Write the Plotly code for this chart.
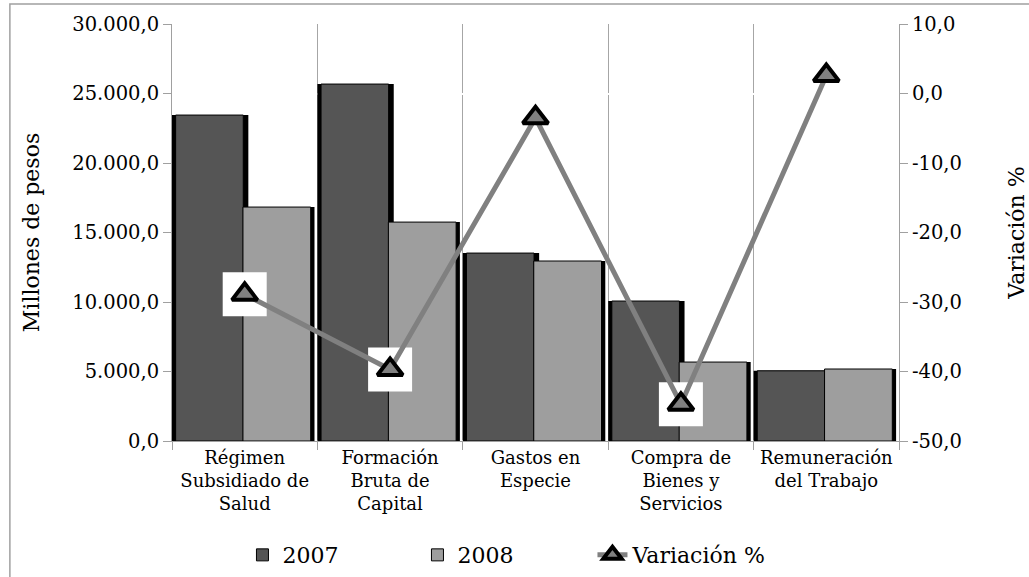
import plotly.graph_objects as go

categorias = ["Régimen<br>Subsidiado de<br>Salud", "Formación<br>Bruta de<br>Capital",
              "Gastos en<br>Especie", "Compra de<br>Bienes y<br>Servicios",
              "Remuneración<br>del Trabajo"]
valores_2007 = [23450, 25680, 13520, 10070, 5050]
valores_2008 = [16830, 15750, 12950, 5680, 5180]
variacion = [-28.9, -39.7, -3.5, -44.7, 2.6]
ticks_var = [-50, -40, -30, -20, -10, 0, 10]
ticks_var_txt = ["-50,0", "-40,0", "-30,0", "-20,0", "-10,0", "0,0", "10,0"]

FUENTE = "DejaVu Serif"
def f(size):
    return dict(family=FUENTE, size=size, color="black")

fig = go.Figure()

# sombra + relleno 2007
fig.add_trace(go.Bar(x=categorias, y=valores_2007, offset=-0.5, width=0.525,
                     marker=dict(color="black", line=dict(width=0)),
                     showlegend=False, hoverinfo="skip"))
fig.add_trace(go.Bar(x=categorias, y=valores_2007, offset=-0.475, width=0.465, name="2007",
                     marker=dict(color="#555555", line=dict(color="black", width=1))))
# sombra + relleno 2008
fig.add_trace(go.Bar(x=categorias, y=valores_2008, offset=-0.012, width=0.492,
                     marker=dict(color="black", line=dict(width=0)),
                     showlegend=False, hoverinfo="skip"))
fig.add_trace(go.Bar(x=categorias, y=valores_2008, offset=-0.012, width=0.466, name="2008",
                     marker=dict(color="#9e9e9e", line=dict(color="black", width=1))))

# fondo blanco de los marcadores
fig.add_trace(go.Scatter(x=categorias, y=variacion, yaxis="y2", mode="markers",
                         marker=dict(symbol="square", size=44, color="white"),
                         showlegend=False, hoverinfo="skip"))
fig.add_trace(go.Scatter(x=categorias, y=variacion, yaxis="y2", mode="lines+markers",
                         name="Variación %",
                         line=dict(color="#808080", width=5),
                         marker=dict(symbol="triangle-up", size=22, color="#808080",
                                     line=dict(color="black", width=4))))

fig.update_layout(
    width=1029, height=577,
    barmode="overlay",
    separators=",.",
    paper_bgcolor="white", plot_bgcolor="white",
    font=f(18),
    margin=dict(l=172, r=130, t=24, b=136, autoexpand=False),
    xaxis=dict(type="category", tickson="boundaries", ticks="outside", ticklen=8,
               tickcolor="#a0a0a0", showgrid=True, gridcolor="#a6a6a6",
               showline=True, linecolor="#a0a0a0", tickfont=f(18), automargin=False),
    yaxis=dict(range=[0, 30000], dtick=5000, tickformat=",.1f", showgrid=False,
               ticks="outside", ticklen=8, tickcolor="#a0a0a0", tickfont=f(19.5),
               showline=True, linecolor="#a0a0a0", automargin=False,
               title=dict(text="Millones de pesos", font=f(22), standoff=26)),
    yaxis2=dict(overlaying="y", side="right", range=[-50, 10],
                tickvals=ticks_var, ticktext=ticks_var_txt, showgrid=False,
                ticks="outside", ticklen=8, tickcolor="#a0a0a0", tickfont=f(19.5),
                showline=True, linecolor="#a0a0a0", automargin=False,
                title=dict(text="Variación %", font=f(22), standoff=48)),
    legend=dict(orientation="h", x=0.458, xanchor="center",
                yref="container", y=0.038, yanchor="middle",
                font=f(22), traceorder="normal", entrywidth=130, entrywidthmode="pixels"),
    shapes=[dict(type="rect", xref="paper", yref="paper", x0=-0.223, x1=1.4,
                 y0=-0.5, y1=1.048, line=dict(color="#a0a0a0", width=1.5))],
)

fig.write_html("out.html", config={"displayModeBar": False},
               post_script="document.body.style.margin='0';")
